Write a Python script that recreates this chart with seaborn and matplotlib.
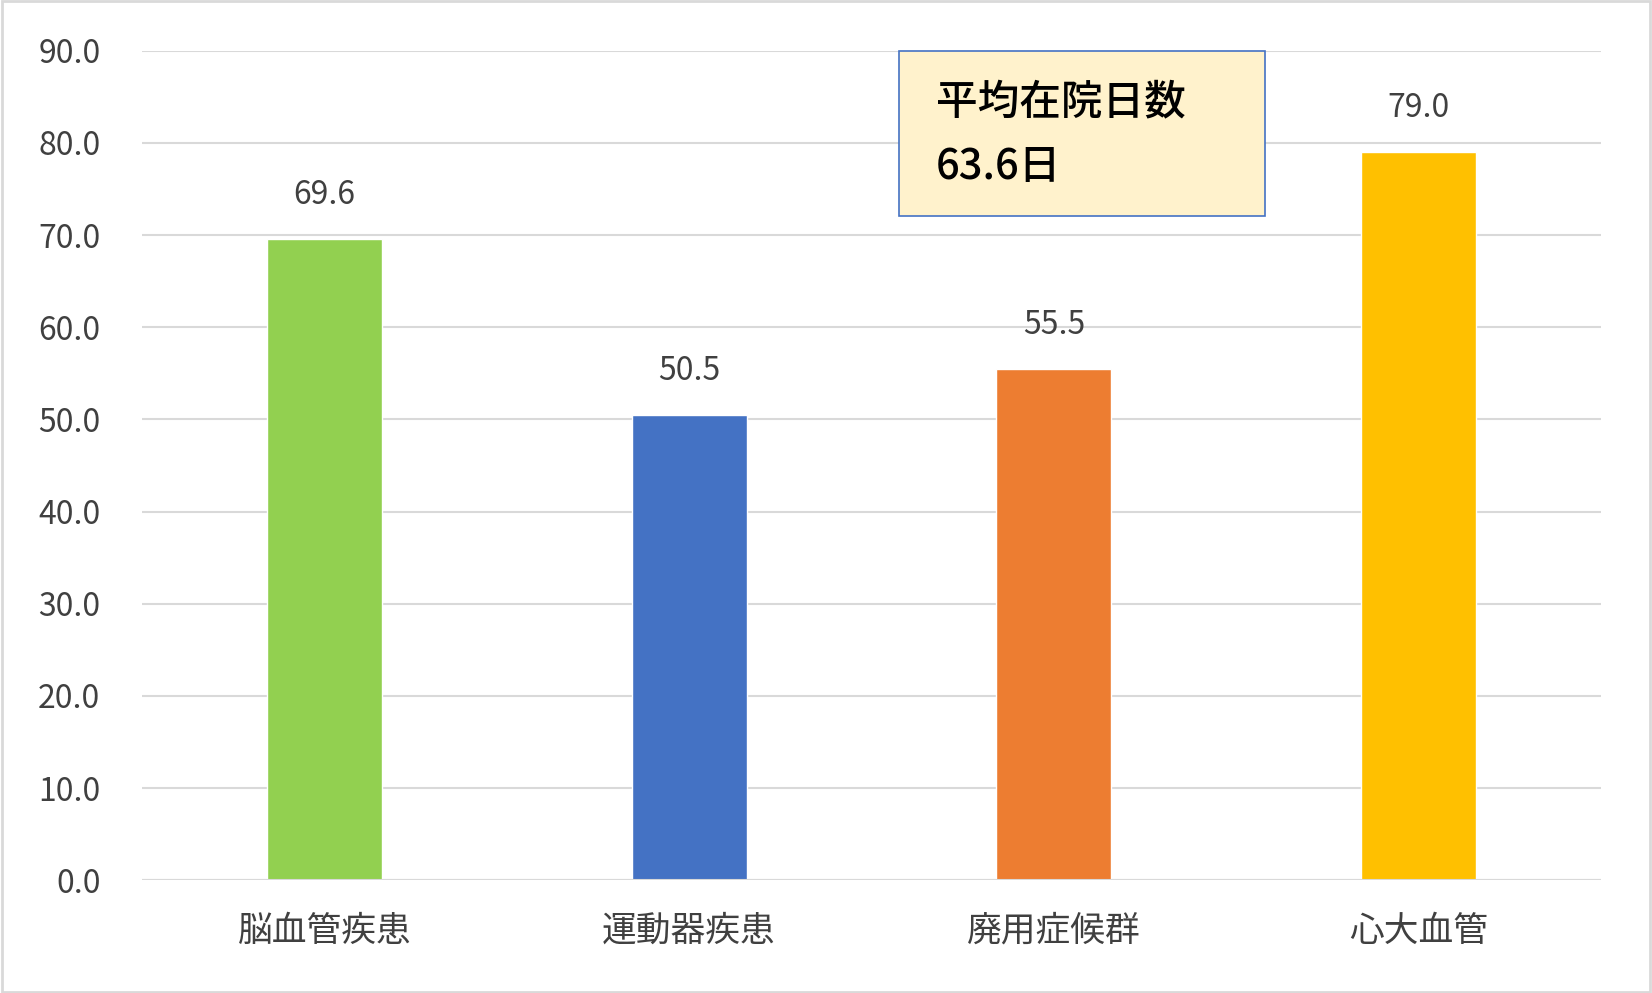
import matplotlib
matplotlib.use("Agg")
import matplotlib.pyplot as plt
import seaborn as sns
import pandas as pd
from matplotlib.patches import Rectangle

categories = ["脳血管疾患", "運動器疾患", "廃用症候群", "心大血管"]
values = [69.6, 50.5, 55.5, 79.0]
colors = ["#92D050", "#4472C4", "#ED7D31", "#FFC000"]
yticks = [0, 10, 20, 30, 40, 50, 60, 70, 80, 90]
box_lines = ["平均在院日数", "63.6日"]

sns.set_theme(style="white")
plt.rcParams['font.family'] = ['Noto Sans CJK JP', 'DejaVu Sans']

fig = plt.figure(figsize=(16.52, 9.93), dpi=100)
ax = fig.add_axes([0.086, 0.1135, 0.883, 0.8355])
df = pd.DataFrame({"cat": categories, "val": values})
sns.barplot(data=df, x="cat", y="val", hue="cat", palette=colors, legend=False,
            width=0.315, ax=ax, saturation=1)
ax.set_ylim(0, 90)
ax.set_xlim(-0.5, 3.5)
ax.set_yticks(yticks)
ax.set_yticklabels([f"{v:.1f}" for v in yticks], fontsize=23, color="#404040")
ax.tick_params(axis="x", labelsize=25, labelcolor="#404040", length=0, pad=24)
ax.tick_params(axis="y", length=0, pad=30)
ax.set_xlabel("")
ax.set_ylabel("")
ax.grid(axis="y", color="#D9D9D9", linewidth=1.5)
ax.set_axisbelow(True)
for s in ax.spines.values():
    s.set_visible(False)
ax.axhline(0, color="#D9D9D9", linewidth=1.5)
for i, v in enumerate(values):
    ax.text(i, v + 3.0, f"{v:.1f}", ha="center", va="bottom", fontsize=23, color="#404040")

bx0, by0 = 853 / 1568, 1 - 205 / 943
bw, bh = (1201 - 853) / 1568, (205 - 48) / 943
fig.patches.append(Rectangle((bx0, by0), bw, bh, transform=fig.transFigure,
                             facecolor="#FFF2CC", edgecolor="#4472C4", linewidth=1.2))
fig.text(888 / 1568, 1 - 97 / 943, box_lines[0], fontsize=30, va="center", ha="left",
         color="black", fontweight="medium")
fig.text(888 / 1568, 1 - 158 / 943, box_lines[1], fontsize=30, va="center", ha="left",
         color="black", fontweight="medium")

fig.patches.append(Rectangle((0.001, 0.001), 0.998, 0.998, transform=fig.transFigure,
                             facecolor="none", edgecolor="#D9D9D9", linewidth=2))
fig.savefig("out.png", dpi=100)
